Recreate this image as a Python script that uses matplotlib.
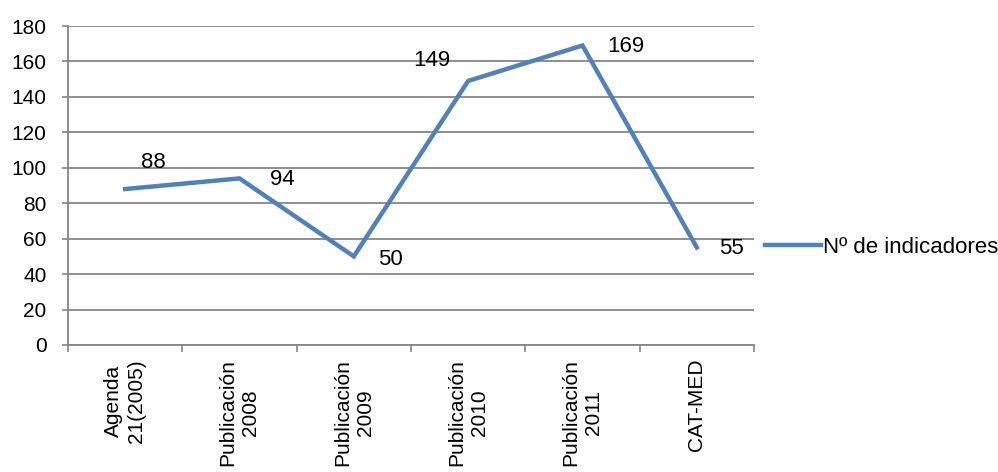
import matplotlib
matplotlib.use("Agg")
import matplotlib.pyplot as plt
from matplotlib.ticker import FixedLocator

plt.rcParams['font.family'] = ['Liberation Sans', 'DejaVu Sans']

categories = ["Agenda\n21(2005)", "Publicación\n2008", "Publicación\n2009",
              "Publicación\n2010", "Publicación\n2011", "CAT-MED"]
values = [88, 94, 50, 149, 169, 55]
series_name = "Nº de indicadores"
yticks = [0, 20, 40, 60, 80, 100, 120, 140, 160, 180]
# label offsets in points (dx, dy)
label_offsets = [(20, 19), (31, -1), (26, -2), (-26, 15), (31, -1), (25, -1)]

fig = plt.figure(figsize=(9.98, 4.72), dpi=100)
ax = fig.add_axes([68/998, 1-345/472, (754-68)/998, (345-26)/472])

x = list(range(len(categories)))
line, = ax.plot(x, values, color='#4F81BD', linewidth=3.2, solid_joinstyle='miter',
                label=series_name, zorder=3)

fs = 16
tfs = 15
xfs = 15
for xi, v, (dx, dy) in zip(x, values, label_offsets):
    ax.annotate(str(v), (xi, v), xytext=(dx, dy), textcoords='offset points',
                ha='center', va='center', fontsize=fs, color='black')

ax.set_xlim(-0.5, len(categories) - 0.5)
ax.set_ylim(0, 180)
ax.set_yticks(yticks)
ax.set_yticklabels([str(t) for t in yticks], fontsize=tfs)
ax.set_xticks(x)
ax.set_xticklabels(categories, rotation=90, fontsize=xfs, ha='center', va='top',
                   linespacing=1.25)
ax.xaxis.set_minor_locator(FixedLocator([i - 0.5 for i in range(len(categories) + 1)]))
ax.tick_params(axis='x', which='major', length=0, pad=10)
ax.tick_params(axis='x', which='minor', length=5, width=1.2, color='#868686', direction='out')
ax.tick_params(axis='y', length=4.5, width=1.2, color='#868686', pad=11)

ax.grid(axis='y', color='#868686', linewidth=1.3, zorder=0)
ax.set_axisbelow(True)
for s in ['top', 'right']:
    ax.spines[s].set_visible(False)
for s in ['left', 'bottom']:
    ax.spines[s].set_color('#868686')
    ax.spines[s].set_linewidth(1.3)

fig.legend(handles=[line], loc='center left', bbox_to_anchor=(765/998, 1-247/472),
           frameon=False, fontsize=fs, handlelength=2.5, handletextpad=0.1,
           borderpad=0, borderaxespad=0)

fig.savefig('out.png', dpi=100)
